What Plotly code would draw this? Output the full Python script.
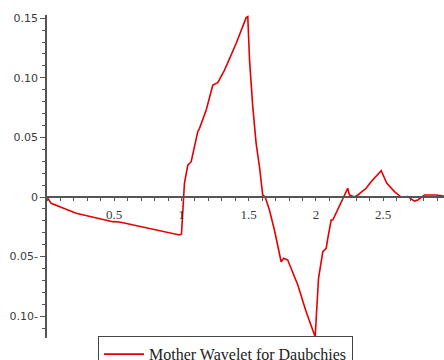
import plotly.graph_objects as go

# Daubechies (D4) mother wavelet, sampled along its support
t_vals = [0.0, 0.031, 0.217, 0.489, 0.539, 0.985, 1.0, 1.015, 1.022, 1.047, 1.072,
          1.121, 1.134, 1.184, 1.233, 1.270, 1.320, 1.407, 1.481, 1.493, 1.506,
          1.530, 1.555, 1.580, 1.604, 1.622, 1.654, 1.691, 1.716, 1.741, 1.761,
          1.790, 1.865, 1.927, 1.994, 2.019, 2.051, 2.076, 2.088, 2.113, 2.125,
          2.199, 2.236, 2.249, 2.286, 2.311, 2.373, 2.410, 2.485, 2.527, 2.584,
          2.633, 2.683, 2.732, 2.757, 2.807, 2.894, 2.95]
psi_vals = [0.0, -0.0053, -0.0137, -0.0207, -0.0210, -0.0319, -0.031, 0.0, 0.0115,
            0.0268, 0.0296, 0.0548, 0.0576, 0.0730, 0.0940, 0.0959, 0.1065, 0.1290,
            0.1505, 0.1513, 0.1150, 0.0758, 0.0450, 0.0254, 0.0017, 0.0, -0.0109,
            -0.0277, -0.0417, -0.0543, -0.0514, -0.0529, -0.0738, -0.0962, -0.1172,
            -0.0682, -0.0459, -0.0430, -0.0347, -0.0193, -0.0193, -0.0025, 0.0073,
            0.0017, 0.0, 0.0017, 0.0073, 0.0128, 0.0221, 0.0115, 0.0045, 0.0, 0.0003,
            -0.0034, -0.0025, 0.0017, 0.0017, 0.0008]

x_tick_vals = [0.5, 1, 1.5, 2, 2.5]
x_tick_text = ["0.5", "1", "1.5", "2", "2.5"]
y_tick_vals = [-0.10, -0.05, 0, 0.05, 0.10, 0.15]
y_tick_text = ["0.10-", "0.05-", "0", "0.05", "0.10", "0.15"]

series_name = "Mother Wavelet for Daubchies"

x_range = [0, 2.952]
y_range = [-0.1183, 0.1527]
# x-axis crosses at psi = 0
x_axis_pos = (0 - y_range[0]) / (y_range[1] - y_range[0])

axis_col = "#555555"
label_col = "#3a3a3a"

fig = go.Figure()
fig.add_trace(go.Scatter(
    x=t_vals, y=psi_vals, mode="lines", name=series_name,
    line=dict(color="rgb(228,0,0)", width=1.6),
    showlegend=True,
))

fig.update_layout(
    width=444, height=360,
    margin=dict(l=47, r=0, t=15, b=22, autoexpand=False),
    paper_bgcolor="white", plot_bgcolor="white",
    showlegend=True,
    legend=dict(
        orientation="h",
        xref="container", yref="container",
        x=0.508, xanchor="center", y=0.066, yanchor="top",
        bordercolor="#444444", borderwidth=1,
        bgcolor="white",
        font=dict(family="Liberation Serif", size=16, color="#222222"),
        itemwidth=40,
    ),
    xaxis=dict(
        range=x_range, anchor="free", position=x_axis_pos,
        showline=True, linecolor=axis_col, linewidth=1.5,
        showgrid=False, zeroline=False,
        tickmode="array", tickvals=x_tick_vals, ticktext=x_tick_text,
        ticks="outside", ticklen=3, tickwidth=1.2, tickcolor=axis_col,
        ticklabelstandoff=3,
        minor=dict(tickmode="linear", tick0=0, dtick=0.1, ticks="outside",
                   ticklen=3, tickwidth=1.2, tickcolor=axis_col),
        tickfont=dict(family="Liberation Serif", size=13, color=label_col),
    ),
    yaxis=dict(
        range=y_range,
        showline=True, linecolor=axis_col, linewidth=1.5,
        showgrid=False, zeroline=False,
        tickmode="array", tickvals=y_tick_vals, ticktext=y_tick_text,
        ticks="outside", ticklen=5, tickwidth=1.2, tickcolor=axis_col,
        minor=dict(tickmode="linear", tick0=0, dtick=0.01, ticks="outside",
                   ticklen=3, tickwidth=1.2, tickcolor=axis_col),
        tickfont=dict(family="DejaVu Sans", size=11, color=label_col),
    ),
)

fig.write_html("out.html")
